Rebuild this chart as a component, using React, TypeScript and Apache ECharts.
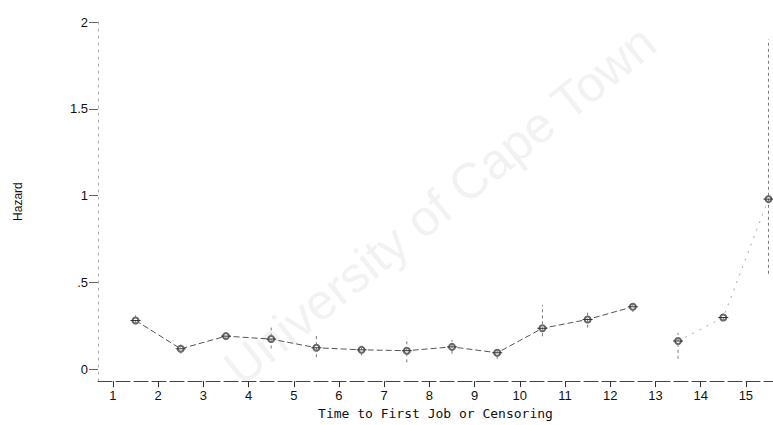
import React, { useEffect, useRef } from "react";
import * as echarts from "echarts";

const times = [1.5, 2.5, 3.5, 4.5, 5.5, 6.5, 7.5, 8.5, 9.5, 10.5, 11.5, 12.5, 13.5, 14.5, 15.5];
const hazard = [0.281, 0.118, 0.191, 0.174, 0.124, 0.112, 0.107, 0.129, 0.095, 0.236, 0.287, 0.36, 0.163, 0.298, 0.98];
const lower = [0.26, 0.09, 0.17, 0.12, 0.07, 0.08, 0.04, 0.09, 0.06, 0.19, 0.24, 0.33, 0.06, 0.28, 0.55];
const upper = [0.31, 0.15, 0.21, 0.24, 0.2, 0.14, 0.18, 0.17, 0.13, 0.37, 0.34, 0.38, 0.21, 0.32, 1.9];
const xTicks = [1, 2, 3, 4, 5, 6, 7, 8, 9, 10, 11, 12, 13, 14, 15];
const yTicks = [0, 0.5, 1, 1.5, 2];
const yTickLabels = ["0", ".5", "1", "1.5", "2"];
const breakAfter = 12; // first 12 points joined, then a gap

export default function App() {
  const ref = useRef<HTMLDivElement>(null);
  useEffect(() => {
    if (!ref.current) return;
    const chart = echarts.init(ref.current, null, { renderer: "svg" });
    const pts = times.map((t, i) => [t, hazard[i]]);
    const bars = times.map((t, i) => [t, lower[i], upper[i], hazard[i]]);
    chart.setOption({
      animation: false,
      backgroundColor: "#ffffff",
      textStyle: { fontFamily: "Liberation Sans, Arial, sans-serif" },
      graphic: [
        {
          type: "text",
          x: 440,
          y: 205,
          rotation: (39 * Math.PI) / 180,
          z: -10,
          style: {
            text: "University of Cape Town",
            fontSize: 50,
            fontFamily: "Liberation Sans, Arial, sans-serif",
            fill: "#f2f2f2",
            align: "center",
            verticalAlign: "middle",
          },
        },
      ],
      grid: { left: 98, right: 0, top: 22, bottom: 36, containLabel: false },
      xAxis: {
        type: "value",
        min: 0.67,
        max: 15.6,
        name: "Time to First Job or Censoring",
        nameLocation: "middle",
        nameGap: 22,
        nameTextStyle: { fontSize: 13, color: "#111", fontFamily: "DejaVu Sans Mono, monospace" },
        axisLine: { show: true, onZero: false, lineStyle: { color: "#444", width: 1, type: [14, 4] } },
        axisTick: { show: true, length: 6, lineStyle: { color: "#333" }, customValues: xTicks },
        axisLabel: { margin: 8, fontSize: 13, color: "#111", customValues: xTicks },
        splitLine: { show: false },
      },
      yAxis: {
        type: "value",
        min: -0.068,
        max: 2,
        name: "Hazard",
        nameLocation: "middle",
        nameGap: 74,
        nameRotate: 90,
        nameTextStyle: { fontSize: 12, color: "#111", fontFamily: "Liberation Sans, Arial, sans-serif" },
        axisLine: { show: true, lineStyle: { color: "#aaa", width: 1, type: [2, 5] } },
        axisTick: { show: true, length: 9, lineStyle: { color: "#666" }, customValues: yTicks },
        axisLabel: {
          margin: 10,
          fontSize: 13,
          color: "#111",
          customValues: yTicks,
          formatter: (v: number) => {
            const i = yTicks.indexOf(v);
            return i >= 0 ? yTickLabels[i] : "";
          },
        },
        splitLine: { show: false },
      },
      series: [
        {
          type: "line",
          data: pts.slice(0, breakAfter),
          symbol: "emptyCircle",
          symbolSize: 6,
          itemStyle: { color: "#666", borderWidth: 1 },
          lineStyle: { color: "#555", width: 1, type: [6, 3] },
          z: 3,
        },
        {
          type: "line",
          data: pts.slice(breakAfter),
          symbol: "emptyCircle",
          symbolSize: 6,
          itemStyle: { color: "#666", borderWidth: 1 },
          lineStyle: { color: "#aaa", width: 1, type: [2, 6] },
          z: 3,
        },
        {
          type: "custom",
          data: bars,
          z: 4,
          renderItem: (params: any, api: any) => {
            const x = api.value(0);
            const lo = api.coord([x, api.value(1)]);
            const hi = api.coord([x, api.value(2)]);
            const mid = api.coord([x, api.value(3)]);
            return {
              type: "group",
              children: [
                {
                  type: "line",
                  shape: { x1: lo[0], y1: lo[1], x2: hi[0], y2: hi[1] },
                  style: { stroke: "#777", lineWidth: 1, lineDash: [3, 3] },
                },
                {
                  type: "line",
                  shape: { x1: mid[0] - 5, y1: mid[1], x2: mid[0] + 5, y2: mid[1] },
                  style: { stroke: "#333", lineWidth: 1 },
                },
              ],
            };
          },
        },
      ],
    });
    return () => chart.dispose();
  }, []);
  return (
    <div
      ref={ref}
      style={{ position: "absolute", left: 0, top: 0, width: 773, height: 425 }}
    />
  );
}
